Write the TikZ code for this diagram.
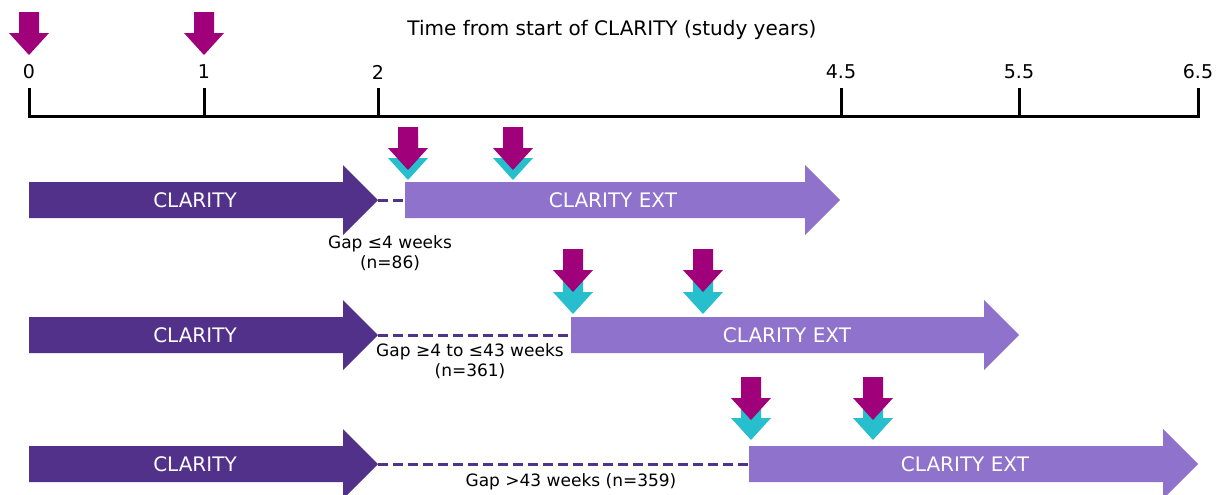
\documentclass[tikz,border=0pt]{standalone}
\usepackage{fontspec}
\setmainfont{DejaVu Sans}
\definecolor{dkpurple}{RGB}{81,49,138}
\definecolor{ltpurple}{RGB}{142,114,204}
\definecolor{magentaA}{RGB}{160,0,122}
\definecolor{cyanA}{RGB}{39,190,206}
\newcommand\bararrow[4]{% color, x1, xtip, yc
  \fill[#1] (#2,{#4-18}) -- ({#3-35},{#4-18}) -- ({#3-35},{#4-35}) -- (#3,#4) -- ({#3-35},{#4+35}) -- ({#3-35},{#4+18}) -- (#2,{#4+18}) -- cycle;}
\newcommand\dnarrow[3]{% color, x, ytip
  \fill[#1] ({#2-10},{#3-43}) -- ({#2+10},{#3-43}) -- ({#2+10},{#3-22}) -- ({#2+20},{#3-22}) -- (#2,#3) -- ({#2-20},{#3-22}) -- ({#2-10},{#3-22}) -- cycle;}
\tikzset{
  axislbl/.style={font=\fontsize{9.5}{11}\selectfont, text=black, inner sep=0pt},
  titlelbl/.style={font=\fontsize{10}{12}\selectfont, text=black, inner sep=0pt},
  barlbl/.style={font=\fontsize{10}{12}\selectfont, text=white, inner sep=0pt},
  gaplbl/.style={font=\fontsize{8.5}{10}\selectfont, text=black, inner sep=0pt, align=center},
  gapline/.style={dkpurple, line width=1.5pt, dash pattern=on 5pt off 2.5pt},
}
\begin{document}
\begin{tikzpicture}[x=0.5pt,y=-0.5pt]
\useasboundingbox (0,0) rectangle (1221,494);
\clip (0,0) rectangle (1221,494);
% timeline
\node[titlelbl] (title) at (612,30) {Time from start of CLARITY (study years)};
\draw[line width=1.5pt] (29,88) -- (29,116) -- (1198,116) -- (1198,88);
\foreach \x/\l/\n in {29/0/a,204/1/b,378/2/c,841/4.5/d,1019/5.5/e,1198/6.5/f}{
  \draw[line width=1.5pt] (\x,88) -- (\x,116);
  \node[axislbl] (t\n) at (\x,72) {\l};
}
\dnarrow{magentaA}{29}{55}
\dnarrow{magentaA}{204}{55}
% row 1
\bararrow{dkpurple}{29}{378}{200}
\bararrow{ltpurple}{405}{840}{200}
\coordinate (r1a) at (378,200); \coordinate (r1b) at (405,200);
\draw[gapline] (r1a) -- (r1b);
\node[barlbl] (c1) at (195,200) {CLARITY};
\node[barlbl] (e1) at (613,200) {CLARITY EXT};
\node[gaplbl] (g1) at (390,253) {Gap ≤4 weeks\\(n=86)};
\dnarrow{cyanA}{408}{180}
\dnarrow{magentaA}{408}{170}
\dnarrow{cyanA}{513}{180}
\dnarrow{magentaA}{513}{170}
% row 2
\bararrow{dkpurple}{29}{378}{335}
\bararrow{ltpurple}{571}{1019}{335}
\coordinate (r2a) at (378,335); \coordinate (r2b) at (571,335);
\draw[gapline] (r2a) -- (r2b);
\node[barlbl] (c2) at (195,335) {CLARITY};
\node[barlbl] (e2) at (787,335) {CLARITY EXT};
\node[gaplbl] (g2) at (470,361) {Gap ≥4 to ≤43 weeks\\(n=361)};
\dnarrow{cyanA}{573}{314}
\dnarrow{magentaA}{573}{292}
\dnarrow{cyanA}{703}{314}
\dnarrow{magentaA}{703}{292}
% row 3
\bararrow{dkpurple}{29}{378}{464}
\bararrow{ltpurple}{749}{1198}{464}
\coordinate (r3a) at (378,464); \coordinate (r3b) at (749,464);
\draw[gapline] (r3a) -- (r3b);
\node[barlbl] (c3) at (195,464) {CLARITY};
\node[barlbl] (e3) at (965,464) {CLARITY EXT};
\node[gaplbl] (g3) at (571,482) {Gap >43 weeks (n=359)};
\dnarrow{cyanA}{751}{440}
\dnarrow{magentaA}{751}{420}
\dnarrow{cyanA}{873}{440}
\dnarrow{magentaA}{873}{420}
\end{tikzpicture}
\end{document}
